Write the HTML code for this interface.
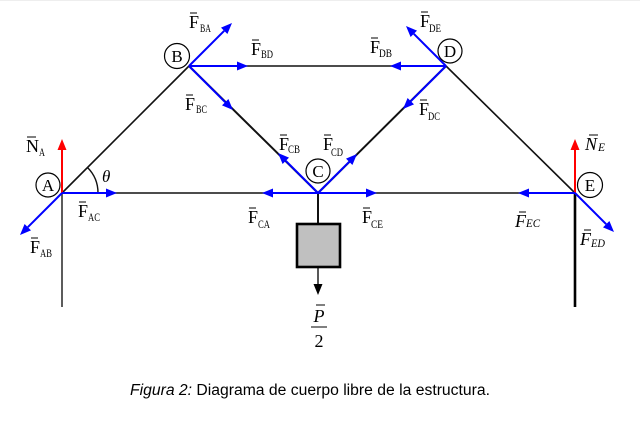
<!DOCTYPE html>
<html>
<head>
<meta charset="utf-8">
<style>
html,body{margin:0;padding:0;background:#fff;}
body{width:640px;height:423px;overflow:hidden;}
svg{display:block;}
.f{font-family:"Liberation Serif",serif;font-size:18px;fill:#000;}
.s{font-family:"Liberation Serif",serif;font-size:12px;fill:#000;}
.i{font-style:italic;}
.cap{font-family:"Liberation Sans",sans-serif;font-size:15.5px;fill:#000;}
</style>
</head>
<body>
<svg width="640" height="423" viewBox="0 0 640 423" xmlns="http://www.w3.org/2000/svg">
<rect x="0" y="0" width="640" height="423" fill="#fff"/>
<rect x="0" y="0" width="640" height="1" fill="#eeeeee"/>

<!-- structure black lines -->
<g stroke="#111" stroke-width="1.6" fill="none">
  <line x1="62" y1="193" x2="189" y2="66"/>
  <line x1="189" y1="66" x2="446" y2="66"/>
  <line x1="446" y1="66" x2="575" y2="193"/>
  <line x1="62" y1="193" x2="575" y2="193"/>
  <line x1="189" y1="66" x2="318" y2="193" stroke-width="2"/>
  <line x1="318" y1="193" x2="446" y2="66" stroke-width="2"/>
  <line x1="62" y1="193" x2="62" y2="307" stroke="#333"/>
  <line x1="575" y1="193" x2="575" y2="307" stroke-width="2.6" stroke="#000"/>
  <line x1="318" y1="193" x2="318" y2="224" stroke-width="2"/>
  <line x1="318" y1="267" x2="318" y2="285" stroke-width="1.4"/>
  <path d="M98,193 A36,36 0 0,0 87.5,167.5" stroke-width="1.4"/>
</g>
<rect x="297" y="224" width="43" height="43" fill="#c0c0c0" stroke="#000" stroke-width="2.6"/>
<polygon points="318,295 313.5,284 322.5,284" fill="#000"/>

<!-- red reactions -->
<g stroke="#ff0000" stroke-width="2" fill="none">
  <line x1="62" y1="193" x2="62" y2="150"/>
  <line x1="575" y1="193" x2="575" y2="150"/>
</g>
<g fill="#ff0000">
  <polygon points="62,139 57.5,150 66.5,150"/>
  <polygon points="575,139 570.5,150 579.5,150"/>
</g>

<!-- blue force arrows -->
<g stroke="#0000ff" stroke-width="2" fill="none">
  <line x1="62" y1="193" x2="27.8" y2="227.2"/>
  <line x1="62" y1="193" x2="106" y2="193"/>
  <line x1="189" y1="66" x2="224.2" y2="30.8"/>
  <line x1="189" y1="66" x2="237" y2="66"/>
  <line x1="189" y1="66" x2="225.2" y2="102.2"/>
  <line x1="318" y1="193" x2="285.8" y2="160.8"/>
  <line x1="318" y1="193" x2="349.2" y2="161.8"/>
  <line x1="318" y1="193" x2="273" y2="193"/>
  <line x1="318" y1="193" x2="366" y2="193"/>
  <line x1="446" y1="66" x2="401" y2="66"/>
  <line x1="446" y1="66" x2="413.8" y2="33.8"/>
  <line x1="446" y1="66" x2="410.8" y2="101.2"/>
  <line x1="575" y1="193" x2="529" y2="193"/>
  <line x1="575" y1="193" x2="606.2" y2="224.2"/>
</g>
<g fill="#0000ff">
  <polygon points="20,235 24.6,224 31,230.4"/>
  <polygon points="117,193 106,188.5 106,197.5"/>
  <polygon points="232,23 227.4,34 221,27.6"/>
  <polygon points="248,66 237,61.5 237,70.5"/>
  <polygon points="233,110 222,105.4 228.4,99"/>
  <polygon points="278,153 289,157.6 282.6,164"/>
  <polygon points="357,154 352.4,165 346,158.6"/>
  <polygon points="262,193 273,188.5 273,197.5"/>
  <polygon points="377,193 366,188.5 366,197.5"/>
  <polygon points="390,66 401,61.5 401,70.5"/>
  <polygon points="406,26 417,30.6 410.6,37"/>
  <polygon points="403,109 407.6,98 414,104.4"/>
  <polygon points="518,193 529,188.5 529,197.5"/>
  <polygon points="614,232 603,227.4 609.4,221"/>
</g>

<!-- joint circles -->
<g fill="#fff" stroke="#000" stroke-width="1.2">
  <circle cx="48" cy="185" r="12"/>
  <circle cx="177" cy="56" r="12.5"/>
  <circle cx="318" cy="171" r="12"/>
  <circle cx="450" cy="51" r="12"/>
  <circle cx="590" cy="185" r="12.5"/>
</g>
<g class="f" text-anchor="middle" style="font-size:17px">
  <text x="48" y="191">A</text>
  <text x="177" y="62">B</text>
  <text x="318" y="177">C</text>
  <text x="450" y="57">D</text>
  <text x="590" y="191">E</text>
</g>

<!-- theta -->
<text class="f i" x="102" y="182" style="font-size:17px">θ</text>

<!-- label vector bars -->
<g stroke="#000" stroke-width="1" fill="none">
  <line x1="190" y1="13" x2="197" y2="13"/>
  <line x1="252" y1="40" x2="259" y2="40"/>
  <line x1="186" y1="95" x2="193" y2="95"/>
  <line x1="280" y1="135" x2="287" y2="135"/>
  <line x1="27" y1="137" x2="36" y2="137"/>
  <line x1="79" y1="202" x2="86" y2="202"/>
  <line x1="31" y1="238" x2="38" y2="238"/>
  <line x1="249" y1="208" x2="256" y2="208"/>
  <line x1="421" y1="12" x2="428" y2="12"/>
  <line x1="371" y1="38" x2="378" y2="38"/>
  <line x1="420" y1="100" x2="427" y2="100"/>
  <line x1="324" y1="135" x2="331" y2="135"/>
  <line x1="589" y1="135" x2="598" y2="135"/>
  <line x1="363" y1="208" x2="370" y2="208"/>
  <line x1="519" y1="212" x2="526" y2="212"/>
  <line x1="584" y1="230" x2="591" y2="230"/>
  <line x1="316" y1="305" x2="325" y2="305"/>
  <line x1="311" y1="327" x2="327" y2="327"/>
</g>

<!-- force labels -->
<text class="f" x="189" y="28">F</text><text class="s" x="200" y="32" textLength="11" lengthAdjust="spacingAndGlyphs">BA</text>
<text class="f" x="251" y="55">F</text><text class="s" x="261" y="58" textLength="12" lengthAdjust="spacingAndGlyphs">BD</text>
<text class="f" x="185" y="110">F</text><text class="s" x="196" y="113" textLength="11" lengthAdjust="spacingAndGlyphs">BC</text>
<text class="f" x="279" y="150">F</text><text class="s" x="288" y="153" textLength="12" lengthAdjust="spacingAndGlyphs">CB</text>
<text class="f" x="26" y="152">N</text><text class="s" x="39" y="156" textLength="6" lengthAdjust="spacingAndGlyphs">A</text>
<text class="f" x="78" y="217">F</text><text class="s" x="88" y="221" textLength="12" lengthAdjust="spacingAndGlyphs">AC</text>
<text class="f" x="30" y="253">F</text><text class="s" x="40" y="257" textLength="12" lengthAdjust="spacingAndGlyphs">AB</text>
<text class="f" x="248" y="223">F</text><text class="s" x="258" y="228" textLength="12" lengthAdjust="spacingAndGlyphs">CA</text>
<text class="f" x="420" y="27">F</text><text class="s" x="429" y="32" textLength="12" lengthAdjust="spacingAndGlyphs">DE</text>
<text class="f" x="370" y="53">F</text><text class="s" x="379" y="57" textLength="13" lengthAdjust="spacingAndGlyphs">DB</text>
<text class="f" x="419" y="115">F</text><text class="s" x="428" y="120" textLength="12" lengthAdjust="spacingAndGlyphs">DC</text>
<text class="f" x="323" y="150">F</text><text class="s" x="331" y="156" textLength="12" lengthAdjust="spacingAndGlyphs">CD</text>
<text class="f i" x="585" y="150">N</text><text class="s i" x="598" y="151" textLength="7" lengthAdjust="spacingAndGlyphs">E</text>
<text class="f" x="362" y="223">F</text><text class="s" x="371" y="228" textLength="12" lengthAdjust="spacingAndGlyphs">CE</text>
<text class="f i" x="515" y="227">F</text><text class="s i" x="526" y="227" textLength="14" lengthAdjust="spacingAndGlyphs">EC</text>
<text class="f i" x="580" y="245">F</text><text class="s i" x="591" y="247" textLength="14" lengthAdjust="spacingAndGlyphs">ED</text>

<!-- P/2 -->
<text class="f i" x="319" y="322" text-anchor="middle">P</text>
<text class="f" x="319" y="347" text-anchor="middle">2</text>

<!-- caption -->
<text class="cap" x="130" y="395" textLength="360" lengthAdjust="spacingAndGlyphs"><tspan font-style="italic">Figura 2:</tspan> Diagrama de cuerpo libre de la estructura.</text>
</svg>
</body>
</html>
